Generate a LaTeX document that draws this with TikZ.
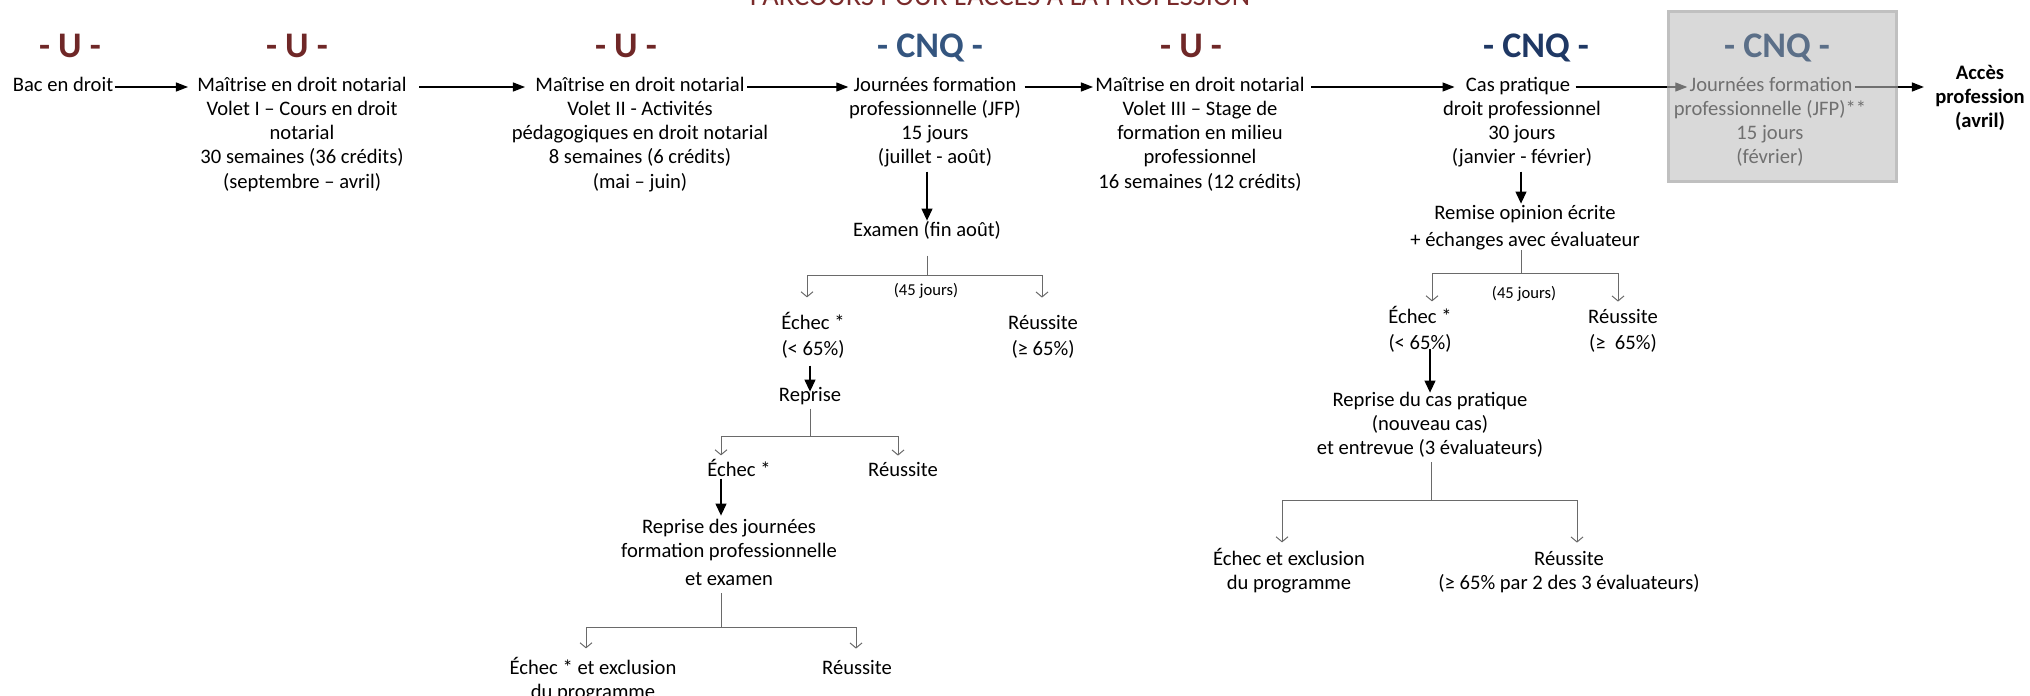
\documentclass[tikz,border=0pt]{standalone}
\usepackage{fontspec}
\setmainfont{Carlito}
\usetikzlibrary{arrows.meta}
\definecolor{umaroon}{HTML}{6F2727}
\definecolor{utitle}{HTML}{7A2B2B}
\definecolor{cnqA}{HTML}{34557F}
\definecolor{cnqB}{HTML}{1F3864}
\definecolor{cnqC}{HTML}{5B6F88}
\definecolor{boxfill}{HTML}{D9D9D9}
\definecolor{boxline}{HTML}{C0C0C0}
\definecolor{boxtext}{HTML}{707070}
\definecolor{treegray}{HTML}{6A6A6A}
\newcommand\ml[1]{\begin{tabular}[t]{@{}c@{}}#1\end{tabular}}
\newcommand\bodyfont{\fontsize{10.3pt}{12.15pt}\selectfont}
\newcommand\smallerfont{\fontsize{8.3pt}{10pt}\selectfont}
\newcommand\headfont{\fontsize{18pt}{21pt}\selectfont\bfseries}
\newcommand\titlefont{\fontsize{14.2pt}{17pt}\selectfont}
\tikzset{
  txt/.style={inner sep=0pt, anchor=base, font=\bodyfont},
  hd/.style={inner sep=0pt, anchor=base, font=\headfont},
  mainline/.style={draw=black, line width=0.6pt},
  mainarrow/.style={mainline, -{Triangle[length=6pt,width=4.5pt]}},
  tline/.style={draw=treegray, line width=0.5pt},
  tarrow/.style={tline, -{Straight Barb[length=2.5pt,width=6pt]}},
  bigdown/.style={draw=black, line width=0.6pt, -{Triangle[length=6pt,width=5.5pt]}},
}
\begin{document}
\begin{tikzpicture}[x=0.5pt,y=-0.5pt]
\useasboundingbox (0,0) rectangle (2030,696);

% title
\node[inner sep=0pt, anchor=base, font=\titlefont, text=utitle] (title) at (1000,5) {PARCOURS POUR L’ACCÈS À LA PROFESSION};

% grey box
\node[draw=boxline, fill=boxfill, line width=1.5pt, minimum width=114pt, minimum height=85pt, inner sep=0pt] (gbox) at (1782.5,96.5) {};

% headers
\node[hd, text=umaroon] (h1) at (70,57) {- U -};
\node[hd, text=umaroon] (h2) at (297,57) {- U -};
\node[hd, text=umaroon] (h3) at (626,57) {- U -};
\node[hd, text=cnqA] (h4) at (930,57) {- CNQ -};
\node[hd, text=umaroon] (h5) at (1191,57) {- U -};
\node[hd, text=cnqB] (h6) at (1536,57) {- CNQ -};
\node[hd, text=cnqC] (h7) at (1777,57) {- CNQ -};

% main row
\node[txt] (n1) at (63,91) {\ml{Bac en droit}};
\node[txt] (n2a) at (302,91) {\ml{Maîtrise en droit notarial}};
\node[txt] (n2b) at (302,115.3) {\ml{Volet I – Cours en droit\\notarial\\30 semaines (36 crédits)\\(septembre – avril)}};
\node[txt] (n3a) at (640,91) {\ml{Maîtrise en droit notarial}};
\node[txt] (n3b) at (640,115.3) {\ml{Volet II - Activités\\pédagogiques en droit notarial\\8 semaines (6 crédits)\\(mai – juin)}};
\node[txt] (n4a) at (935,91) {\ml{Journées formation}};
\node[txt] (n4b) at (935,115.3) {\ml{professionnelle (JFP)\\15 jours\\(juillet - août)}};
\node[txt] (n5a) at (1200,91) {\ml{Maîtrise en droit notarial}};
\node[txt] (n5b) at (1200,115.3) {\ml{Volet III – Stage de\\formation en milieu\\professionnel\\16 semaines (12 crédits)}};
\node[txt] (n6a) at (1518,91) {\ml{Cas pratique}};
\node[txt] (n6b) at (1522,115.3) {\ml{droit professionnel\\30 jours\\(janvier - février)}};
\node[txt, text=boxtext] (n7a) at (1771,91) {\ml{Journées formation}};
\node[txt, text=boxtext] (n7b) at (1770,115.3) {\ml{professionnelle (JFP)**\\15 jours\\(février)}};
\node[txt, font=\bodyfont\bfseries] (acc) at (1980,79) {\ml{Accès\\profession\\(avril)}};

% row arrows
\coordinate (r1) at ([yshift=2pt]n1.base east);
\coordinate (r2) at ([yshift=2pt]n2a.base east);
\coordinate (r3) at ([yshift=2pt]n3a.base east);
\coordinate (r4) at ([yshift=2pt]n4a.base east);
\coordinate (r5) at ([yshift=2pt]n5a.base east);
\coordinate (r6) at ([yshift=2pt]n6a.base east);
\coordinate (r7) at ([yshift=2pt]n7a.base east);
\draw[mainarrow, shorten <=0.5pt, shorten >=4.5pt] (r1) -- (r1 -| n2a.west);
\draw[mainarrow, shorten <=6pt, shorten >=5pt] (r2) -- (r2 -| n3a.west);
\draw[mainarrow, shorten <=1pt, shorten >=2.5pt] (r3) -- (r3 -| n4a.west);
\draw[mainarrow, shorten <=4pt, shorten >=1pt] (r4) -- (r4 -| n5a.west);
\draw[mainarrow, shorten <=3pt, shorten >=5.5pt] (r5) -- (r5 -| n6a.west);
\draw[mainline, shorten <=2.5pt] (r6) -- (r6 -| gbox.west);
\draw[draw=boxtext, line width=0.6pt, -{Triangle[length=6pt,width=4.5pt]}, shorten >=1pt] (r6 -| gbox.west) -- (r6 -| n7a.west);
\draw[draw=boxtext, line width=0.6pt, shorten <=1pt] (r7) -- (r7 -| gbox.east);
\draw[mainarrow, shorten >=5.5pt] (r7 -| gbox.east) -- (r7 -| acc.west);

% left tree
\node[txt] (exam) at (927,236) {\ml{Examen (fin août)}};
\draw[bigdown, shorten >=-1pt] (exam.north |- n4b.south) -- (exam.north);
\coordinate (j1) at (927,275);
\coordinate (j1l) at (807,275);
\coordinate (j1r) at (1042,275);
\draw[tline, shorten <=6pt] (exam.south) -- (j1);
\draw[tline] (j1l) -- (j1r);
\node[txt, font=\smallerfont] (d45a) at (926,295) {(45 jours)};
\node[txt] (ech1) at (813,329) {\ml{Échec *\\[1.3pt](< 65\%)}};
\node[txt] (reu1) at (1043,329) {\ml{Réussite\\[1.3pt](≥ 65\%)}};
\draw[tarrow, shorten >=7pt] (j1l) -- (j1l |- ech1.north);
\draw[tarrow, shorten >=7pt] (j1r) -- (j1r |- reu1.north);
\node[txt] (rep1) at (810,401) {\ml{Reprise}};
\draw[bigdown, shorten <=1pt, shorten >=-4pt] (rep1.north |- ech1.south) -- (rep1.north);
\coordinate (j2) at (810,436);
\coordinate (j2l) at (721,436);
\coordinate (j2r) at (898,436);
\draw[tline] (rep1.south) -- (j2);
\draw[tline] (j2l) -- (j2r);
\node[txt] (ech2) at (739,476) {\ml{Échec *}};
\node[txt] (reu2) at (903,476) {\ml{Réussite}};
\draw[tarrow, shorten >=1.5pt] (j2l) -- (j2l |- ech2.north);
\draw[tarrow, shorten >=1.5pt] (j2r) -- (j2r |- reu2.north);
\node[txt] (rep2) at (729,533) {\ml{Reprise des journées\\formation professionnelle\\[2pt]et examen}};
\coordinate (j3) at (721,627);
\coordinate (j3l) at (586,627);
\coordinate (j3r) at (856,627);
\draw[bigdown, shorten <=-2.5pt, shorten >=0pt] (j3 |- ech2.south) -- (j3 |- rep2.north);
\draw[tline] (j3 |- rep2.south) -- (j3);
\draw[tline] (j3l) -- (j3r);
\node[txt] (ech3) at (593,674) {\ml{Échec * et exclusion\\du programme}};
\node[txt] (reu3) at (857,674) {\ml{Réussite}};
\draw[tarrow, shorten >=4pt] (j3l) -- (j3l |- ech3.north);
\draw[tarrow, shorten >=4pt] (j3r) -- (j3r |- reu3.north);

% right tree
\node[txt] (rem) at (1525,219) {\ml{Remise opinion écrite\\[1.4pt]+ échanges avec évaluateur}};
\coordinate (j4) at (1521,273);
\coordinate (j4l) at (1432,273);
\coordinate (j4r) at (1618,273);
\draw[bigdown, shorten >=-1pt] (j4 |- n6b.south) -- (j4 |- rem.north);
\draw[tline, shorten <=-2pt] (j4 |- rem.south) -- (j4);
\draw[tline] (j4l) -- (j4r);
\node[txt, font=\smallerfont] (d45b) at (1524,298) {(45 jours)};
\node[txt] (ech4) at (1420,323) {\ml{Échec *\\[1.3pt](< 65\%)}};
\node[txt] (reu4) at (1623,323) {\ml{Réussite\\[1.3pt](≥\ \ 65\%)}};
\draw[tarrow, shorten >=2pt] (j4l) -- (j4l |- ech4.north);
\draw[tarrow, shorten >=2pt] (j4r) -- (j4r |- reu4.north);
\node[txt] (rep4) at (1430,406) {\ml{Reprise du cas pratique\\(nouveau cas)\\et entrevue (3 évaluateurs)}};
\draw[bigdown, shorten <=-4.5pt, shorten >=-2pt] (rep4.north |- ech4.south) -- (rep4.north);
\coordinate (j5) at (1431,500);
\coordinate (j5l) at (1282,500);
\coordinate (j5r) at (1577,500);
\draw[tline] (j5 |- rep4.south) -- (j5);
\draw[tline] (j5l) -- (j5r);
\node[txt] (ech5) at (1289,565) {\ml{Échec et exclusion\\du programme}};
\node[txt] (reu5) at (1569,565) {\ml{Réussite\\(≥ 65\% par 2 des 3 évaluateurs)}};
\draw[tarrow, shorten >=2.5pt] (j5l) -- (j5l |- ech5.north);
\draw[tarrow, shorten >=2.5pt] (j5r) -- (j5r |- reu5.north);
\end{tikzpicture}
\end{document}
